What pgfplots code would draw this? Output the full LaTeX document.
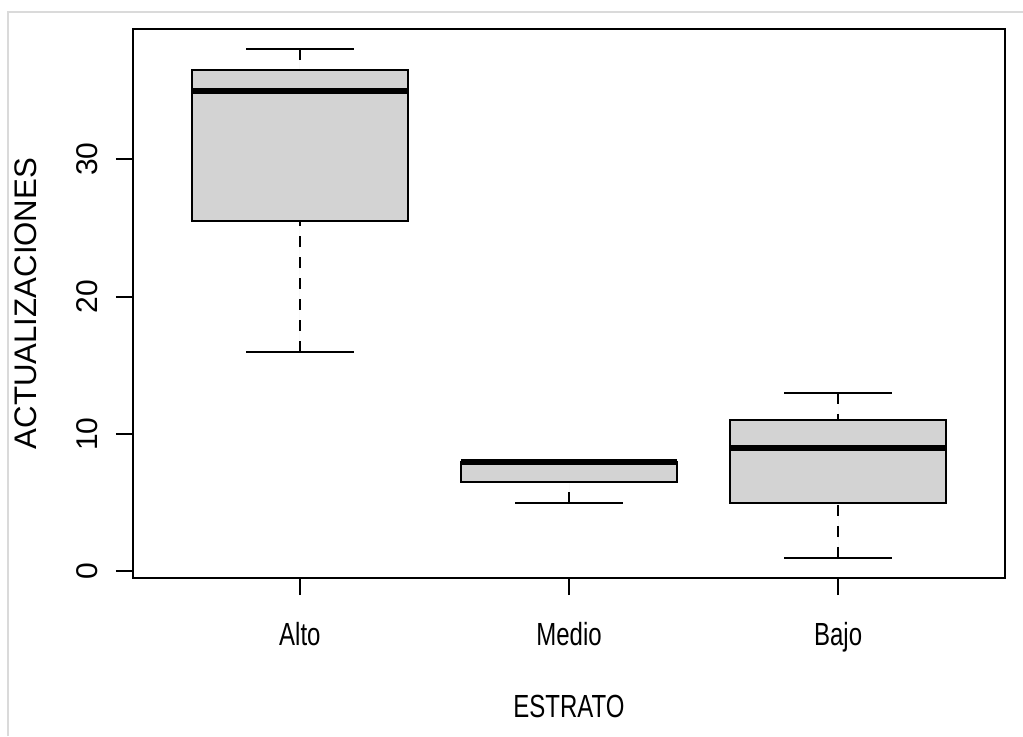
\documentclass[border=0pt]{standalone}
\usepackage{fontspec}
\setmainfont{Liberation Sans}[FakeStretch=0.75]
\newfontfamily\rotfont{Liberation Sans}
\usepackage{pgfplots}
\pgfplotsset{compat=1.18}
\usepgfplotslibrary{statistics}
\definecolor{boxgray}{HTML}{D3D3D3}
\definecolor{framegray}{HTML}{DADADA}
\pgfplotsset{
  rbox/.style={
    draw=black, fill=boxgray, line width=1pt,
    boxplot/draw direction=y,
    boxplot/box extend=0.8,
    boxplot/whisker extend=0.4,
    boxplot/every median/.style={line width=3pt},
    boxplot/draw/lower whisker/.code={%
      \draw[dash pattern=on 5.5pt off 5pt]
        (boxplot box cs:\pgfplotsboxplotvalue{lower whisker},0.5)
        -- (boxplot box cs:\pgfplotsboxplotvalue{lower quartile},0.5);
      \draw (boxplot whisker cs:\pgfplotsboxplotvalue{lower whisker},0)
        -- (boxplot whisker cs:\pgfplotsboxplotvalue{lower whisker},1);
    },
    boxplot/draw/upper whisker/.code={%
      \draw[dash pattern=on 5.5pt off 5pt]
        (boxplot box cs:\pgfplotsboxplotvalue{upper whisker},0.5)
        -- (boxplot box cs:\pgfplotsboxplotvalue{upper quartile},0.5);
      \draw (boxplot whisker cs:\pgfplotsboxplotvalue{upper whisker},0)
        -- (boxplot whisker cs:\pgfplotsboxplotvalue{upper whisker},1);
    },
  }
}
\begin{document}
\begin{tikzpicture}
\useasboundingbox (-66.5pt,-79pt) rectangle (445pt,289pt);
\draw[framegray, line width=1pt] (-62.5pt,-79pt) -- (-62.5pt,283pt) -- (445pt,283pt);
\begin{axis}[
  scale only axis, width=436pt, height=274.5pt,
  xmin=0.38, xmax=3.62, ymin=-0.48, ymax=39.48,
  xtick={1,2,3}, xticklabels={Alto,Medio,Bajo},
  ytick={0,10,20,30},
  tick align=outside, xtick pos=bottom, ytick pos=left,
  major tick length=8.5pt,
  axis line style={line width=1pt},
  tick style={line width=1pt, black},
  /pgf/number format/assume math mode=true,
  xticklabel style={font=\fontsize{16}{19}\selectfont, anchor=base, yshift=-25pt},
  yticklabel style={font=\rotfont\fontsize{15}{18}\selectfont, rotate=90, anchor=south, inner ysep=9pt},
]
\addplot[rbox, boxplot prepared={lower whisker=16, lower quartile=25.5, median=35, upper quartile=36.5, upper whisker=38, draw position=1}] coordinates {};
\addplot[rbox, boxplot prepared={lower whisker=5, lower quartile=6.5, median=8, upper quartile=8, upper whisker=8, draw position=2}] coordinates {};
\addplot[rbox, boxplot prepared={lower whisker=1, lower quartile=5, median=9, upper quartile=11, upper whisker=13, draw position=3}] coordinates {};
\end{axis}
\node[font=\fontsize{16}{19}\selectfont, anchor=base] at (218pt,-69.5pt) {ESTRATO};
\node[font=\rotfont\fontsize{15.6}{18}\selectfont, rotate=90, anchor=base] at (-48pt,137.25pt) {ACTUALIZACIONES};
\end{tikzpicture}
\end{document}
